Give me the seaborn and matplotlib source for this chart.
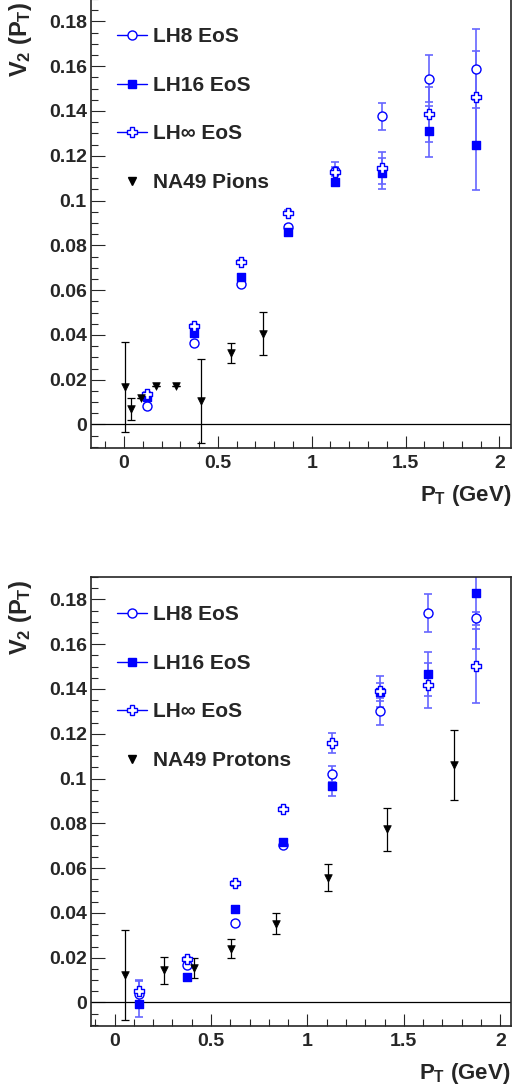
import numpy as np
import seaborn as sns
import matplotlib
matplotlib.use("Agg")
import matplotlib.pyplot as plt
from matplotlib.lines import Line2D
from matplotlib.ticker import MultipleLocator

# model points (same pT bins for all three EoS)
pt_lh = [0.125, 0.375, 0.625, 0.875, 1.125, 1.375, 1.625, 1.875]

# pions
v2_lh8_pi = [0.0082, 0.0365, 0.0628, 0.0883, 0.1131, 0.1377, 0.1544, 0.1589]
er_lh8_pi = [0.001, 0.001, 0.001, 0.001, 0.004, 0.006, 0.0104, 0.0175]
v2_lh16_pi = [0.0124, 0.0410, 0.0660, 0.0859, 0.1082, 0.1121, 0.1309, 0.1247]
er_lh16_pi = [0.001, 0.001, 0.001, 0.001, 0.001, 0.0068, 0.0115, 0.0200]
v2_lhinf_pi = [0.0135, 0.0439, 0.0725, 0.0946, 0.1128, 0.1146, 0.1385, 0.1462]
er_lhinf_pi = [0.001, 0.001, 0.001, 0.001, 0.002, 0.007, 0.0122, 0.0208]
pt_na49_pi = [0.007, 0.037, 0.090, 0.172, 0.277, 0.409, 0.569, 0.741]
v2_na49_pi = [0.0168, 0.0069, 0.0119, 0.0174, 0.0174, 0.0104, 0.0320, 0.0406]
er_na49_pi = [0.0200, 0.0050, 0.0, 0.0, 0.0, 0.0188, 0.0046, 0.0097]

# protons
v2_lh8_p = [0.0039, 0.0169, 0.0355, 0.0703, 0.1020, 0.1300, 0.1740, 0.1715]
er_lh8_p = [0.006, 0.001, 0.001, 0.001, 0.0037, 0.006, 0.0086, 0.003]
v2_lh16_p = [-0.0006, 0.0116, 0.0417, 0.0717, 0.0967, 0.1387, 0.1467, 0.1827]
er_lh16_p = [0.006, 0.001, 0.001, 0.001, 0.0045, 0.004, 0.0099, 0.0247]
v2_lhinf_p = [0.0050, 0.0193, 0.0532, 0.0864, 0.1159, 0.1390, 0.1416, 0.1502]
er_lhinf_p = [0.0045, 0.001, 0.001, 0.001, 0.0045, 0.007, 0.0100, 0.0164]
pt_na49_p = [0.053, 0.254, 0.413, 0.604, 0.836, 1.106, 1.412, 1.760]
v2_na49_p = [0.0124, 0.0143, 0.0154, 0.0240, 0.0352, 0.0558, 0.0773, 0.1061]
er_na49_p = [0.0200, 0.0060, 0.0046, 0.0043, 0.0048, 0.0062, 0.0097, 0.0155]

labels_lh = ["LH8 EoS", "LH16 EoS", "LH\u221e EoS"]

sns.set_style("ticks")
plt.rcParams['font.family'] = ['Liberation Sans', 'DejaVu Sans']
plt.rcParams['font.weight'] = 'bold'
plt.rcParams['mathtext.fontset'] = 'custom'
plt.rcParams['mathtext.rm'] = 'Liberation Sans:bold'
plt.rcParams['mathtext.it'] = 'Liberation Sans:bold'
plt.rcParams['mathtext.bf'] = 'Liberation Sans:bold'

blue = (0, 0, 1)
styles = [dict(marker='o', fc='white', ms=6.5),
          dict(marker='s', fc=blue, ms=5.5),
          dict(marker='P', fc='white', ms=7)]


#draws one panel with the three model curves and the NA49 points
def drawPanel(ax, lh_vals, lh_errs, pt_na, v2_na, er_na, na_label, xlim):
    ax.axhline(0, color='k', lw=0.9, zorder=1)
    for v, e, st in zip(lh_vals, lh_errs, styles):
        ax.errorbar(pt_lh, v, yerr=e, fmt='none', ecolor=(0.4, 0.4, 1), elinewidth=1.2,
                    capsize=3, capthick=1.2, zorder=2)
    ax.errorbar(pt_na, v2_na, yerr=er_na, fmt='none', ecolor='k', elinewidth=0.9,
                capsize=3, capthick=0.9, zorder=2)
    for v, st in zip(lh_vals, styles):
        sns.scatterplot(x=pt_lh, y=v, marker=st['marker'], s=st['ms']**2, color=st['fc'],
                        edgecolor=blue, linewidth=1, zorder=3, ax=ax)
    sns.scatterplot(x=pt_na, y=v2_na, marker='v', s=30, color='k', edgecolor='k',
                    linewidth=0.5, zorder=3, ax=ax)

    ax.set_xlim(*xlim)
    ax.set_ylim(-0.0105, 0.19)
    ax.xaxis.set_major_locator(MultipleLocator(0.5))
    ax.xaxis.set_minor_locator(MultipleLocator(0.1))
    ax.yaxis.set_major_locator(MultipleLocator(0.02))
    ax.yaxis.set_minor_locator(MultipleLocator(0.005))
    ax.set_yticks(np.arange(0, 0.19, 0.02))
    ax.set_yticklabels(['0'] + ['%g' % t for t in np.arange(0.02, 0.19, 0.02)])
    ax.set_xticks([0, 0.5, 1, 1.5, 2])
    ax.set_xticklabels(['0', '0.5', '1', '1.5', '2'])
    ax.tick_params(which='both', direction='in', width=0.8, labelsize=14)
    ax.tick_params(axis='y', which='major', length=10, pad=3)
    ax.tick_params(axis='y', which='minor', length=5)
    ax.tick_params(axis='x', which='major', length=9, pad=5)
    ax.tick_params(axis='x', which='minor', length=4.8)
    for sp in ax.spines.values():
        sp.set_linewidth(1.2)

    ax.set_xlabel('$P_T$ (GeV)', fontsize=16, fontweight='bold')
    ax.xaxis.set_label_coords(1.0, -0.077)
    ax.xaxis.label.set_ha('right')
    ax.set_ylabel('$V_2$ ($P_T$)', fontsize=17, fontweight='bold')
    ax.yaxis.set_label_coords(-0.135, 0.993)
    ax.yaxis.label.set_ha('right')

    handles = [Line2D([0], [0], color=blue, lw=1, marker=st['marker'], ms=st['ms'],
                      mfc=st['fc'], mec=blue, mew=1) for st in styles]
    handles.append(Line2D([0], [0], color='none', marker='v', ms=5.5, mfc='k', mec='k'))
    ax.legend(handles, labels_lh + [na_label], loc='upper left', bbox_to_anchor=(0.062, 0.937),
              frameon=False, handlelength=1.44, handletextpad=0.3,
              labelspacing=1.42, borderpad=0, borderaxespad=0,
              prop={'weight': 'bold', 'size': 15})


fig = plt.figure(figsize=(5.12, 10.91), dpi=100)
ax1 = fig.add_axes([91/512, 1 - 448/1091, 420/512, 449/1091])
ax2 = fig.add_axes([91/512, 1 - 1026/1091, 419.5/512, 449/1091])

drawPanel(ax1, [v2_lh8_pi, v2_lh16_pi, v2_lhinf_pi], [er_lh8_pi, er_lh16_pi, er_lhinf_pi],
          pt_na49_pi, v2_na49_pi, er_na49_pi, "NA49 Pions", (-0.176, 2.062))
drawPanel(ax2, [v2_lh8_p, v2_lh16_p, v2_lhinf_p], [er_lh8_p, er_lh16_p, er_lhinf_p],
          pt_na49_p, v2_na49_p, er_na49_p, "NA49 Protons", (-0.122, 2.053))

fig.savefig("out.png", dpi=100)
